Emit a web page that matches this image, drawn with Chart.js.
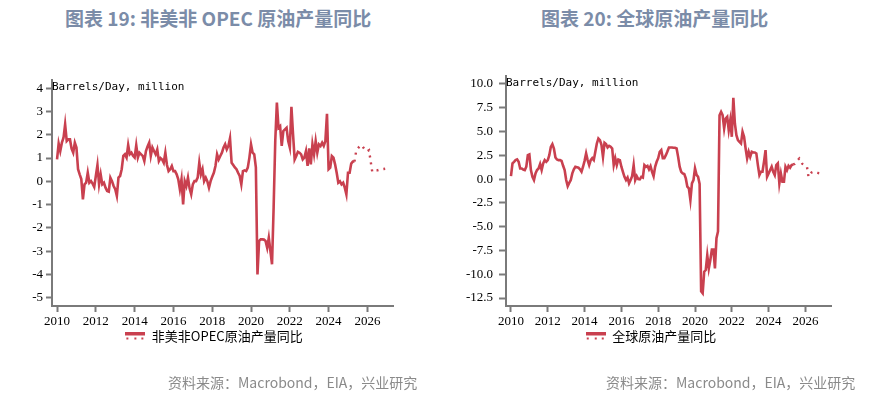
<!DOCTYPE html>
<html><head><meta charset="utf-8">
<script src="https://cdn.jsdelivr.net/npm/chart.js@4.4.1/dist/chart.umd.min.js"></script>
<style>
body{margin:0;background:#fff;width:880px;height:399px;position:relative;overflow:hidden;font-family:"Noto Sans CJK SC",sans-serif;}
.t{position:absolute;font-weight:bold;font-size:19px;color:#7b8ca8;white-space:nowrap;line-height:1;}
.s{position:absolute;font-size:14px;color:#8a8a8a;white-space:nowrap;line-height:1;}
canvas{position:absolute;top:0;}
</style></head><body>
<div class="t" style="left:65px;top:8px">图表 19: 非美非 OPEC 原油产量同比</div>
<div class="t" style="left:541px;top:8px">图表 20: 全球原油产量同比</div>
<canvas id="c1" width="420" height="399" style="left:0"></canvas>
<canvas id="c2" width="460" height="399" style="left:420px"></canvas>
<div class="s" style="left:168px;top:375px">资料来源：Macrobond，EIA，兴业研究</div>
<div class="s" style="left:606px;top:375px">资料来源：Macrobond，EIA，兴业研究</div>
<script>
// ---------- data ----------
const startYear = 2010;            // first monthly observation: Jan 2010
const forecastStartYear = 2025;    // forecast series starts May 2025
const forecastStartMonth = 5;
const unitLabel = 'Barrels/Day, million';
const xTickYears = [2010, 2012, 2014, 2016, 2018, 2020, 2022, 2024, 2026];
const leftYTicks = [-5, -4, -3, -2, -1, 0, 1, 2, 3, 4];
const rightYTicks = [-12.5, -10, -7.5, -5, -2.5, 0, 2.5, 5, 7.5, 10];
const leftLegend = '非美非OPEC原油产量同比';
const rightLegend = '全球原油产量同比';

// Non-US non-OPEC crude production YoY, monthly Jan 2010 - May 2025
const nonUsNonOpecActual = [
  0.94, 1.62, 1.3, 1.66, 1.87, 2.45, 1.73, 1.8, 1.8, 1.4, 1.23, 1.66,
  1.45, 0.52, 0.3, 0.1, -0.77, -0.13, -0.06, 0.37, -0.06, 0.01, -0.1, -0.24,
  0.23, 0.7, -0.13, 0.3, -0.13, -0.06, -0.27, -0.41, -0.44, 0.16, 0.01, -0.2,
  -0.34, -0.63, 0.16, 0.23, 0.52, 1.09, 1.16, 1.02, 1.56, 1.16, 1.23, 1.1,
  1.02, 1.55, 1.02, 1.23, 1.16, 1.09, 0.87, 1.3, 1.5, 1.66, 1.09, 1.45,
  1.3, 1.16, 1.37, 0.87, 1.0, 0.94, 0.8, 1.23, 0.7, 0.44, 0.52, 0.66,
  0.44, 0.44, 0.3, 0.09, -0.34, 0.09, -0.99, 0.01, -0.2, 0.16, -0.3, -0.56,
  -0.13, 0.01, 0.01, 0.16, 0.8, 0.3, 0.52, 0.01, 0.16, 0.0, -0.27, 0.01,
  0.2, 0.37, 0.66, 1.16, 0.94, 1.09, 1.23, 1.45, 1.59, 1.37, 1.52, 1.85,
  0.8, 0.7, 0.6, 0.52, 0.37, 0.23, -0.13, 0.44, 0.47, 0.44, 0.59, 1.02,
  1.59, 1.23, 1.16, 0.6, -4.0, -2.56, -2.49, -2.49, -2.5, -2.56, -2.85, -2.42,
  -2.99, -3.56, -1.1, 1.73, 3.38, 2.3, 2.37, 1.52, 2.16, 2.23, 2.3, 1.73,
  1.45, 3.2, 2.02, 0.94, 1.09, 1.27, 1.23, 1.16, 0.94, 1.02, 1.3, 0.66,
  1.42, 0.73, 1.59, 1.16, 1.73, 1.23, 1.59, 1.52, 1.66, 1.52, 1.73, 2.9,
  0.52, 0.59, 1.09, 1.02, 0.73, 0.37, -0.06, 0.0, -0.13, -0.06, -0.27, -0.56,
  0.37, 0.37, 0.76, 0.85, 0.85
];
// forecast May 2025 - Dec 2026
const nonUsNonOpecForecast = [0.85, 1.27, 1.4, 1.49, 1.56, 1.5, 1.4, 1.3, 1.3, 1.34, 0.87, 0.41, 0.44, 0.46, 0.47, 0.49, 0.5, 0.52, 0.53, 0.54];

// Global crude production YoY, monthly Jan 2010 - May 2025
const worldActual = [
  0.32, 1.65, 1.82, 2.0, 2.07, 1.82, 1.12, 1.12, 1.0, 0.95, 1.3, 2.52,
  2.6, 0.95, 0.24, -0.1, 0.6, 0.95, 1.12, 1.58, 0.95, 1.65, 2.0, 1.82,
  2.0, 2.52, 3.39, 3.68, 3.22, 2.28, 2.07, 2.0, 2.0, 1.92, 1.4, 0.95,
  -0.1, -0.74, -0.4, -0.1, 0.6, 1.02, 1.3, 1.25, 1.2, 1.02, 0.77, 1.3,
  1.92, 2.7, 2.0, 1.47, 2.0, 2.2, 2.0, 2.87, 3.75, 4.27, 4.1, 3.6,
  2.34, 3.82, 3.68, 3.33, 3.5, 3.4, 3.22, 1.47, 2.2, 1.47, 2.07, 2.0,
  1.3, 0.77, 0.24, -0.1, 0.17, -0.45, -0.1, 0.31, 1.47, -0.1, 0.31, 0.0,
  -0.03, 0.24, 0.17, 1.47, 1.3, 1.4, 1.02, 1.36, 0.77, 0.31, 1.3, 1.82,
  2.2, 2.87, 3.05, 2.2, 2.2, 2.52, 2.9, 3.33, 3.33, 3.33, 3.3, 3.3,
  3.22, 2.34, 1.3, 0.77, 0.6, 0.53, 0.07, -0.8, -0.98, -2.2, -0.45, -0.1,
  1.12, 0.45, 0.24, -0.5, -11.8, -12.0, -9.74, -9.56, -8.0, -9.4, -8.5, -7.4,
  -7.4, -9.38, -6.2, -5.5, 6.72, 7.07, 6.72, 5.32, 6.37, 6.55, 5.15, 6.2,
  4.45, 8.54, 5.85, 4.62, 4.1, 3.92, 3.75, 4.97, 4.45, 3.22, 2.17, 2.87,
  2.34, 2.87, 2.8, 2.8, 2.7, 1.47, 0.42, 0.77, 0.77, 1.82, 3.05, 0.24,
  0.59, 0.95, 1.3, 0.77, 0.42, 1.47, 1.65, -0.45, 0.59, -0.28, -0.28, 1.3,
  0.95, 1.4, 1.2, 1.47, 1.54
];
const worldForecast = [1.54, 1.6, 1.75, 2.0, 2.17, 1.9, 1.6, 1.54, 1.4, 1.3, 0.24, 0.5, 0.7, 0.77, 0.72, 0.68, 0.65, 0.62, 0.59, 0.58];

// ---------- chart building ----------
const RED = '#c9404f';
const AXIS = '#7a7a7a';

function toPoints(values, y0, m0) {
  return values.map((v, i) => ({ x: y0 + (m0 - 1 + i) / 12, y: v }));
}

function legendIcon() {
  const c = document.createElement('canvas');
  c.width = 20; c.height = 10;
  const g = c.getContext('2d');
  g.fillStyle = RED;
  g.fillRect(0, 0, 20, 4);
  [1, 9, 16].forEach(x => g.fillRect(x, 6, 2, 2));
  return c;
}

const unitLabelPlugin = {
  id: 'unitLabel',
  afterDraw(chart, args, opts) {
    const { ctx, chartArea } = chart;
    ctx.save();
    ctx.font = '11px "DejaVu Sans Mono"';
    ctx.fillStyle = '#000';
    ctx.textAlign = 'left';
    ctx.textBaseline = 'middle';
    ctx.fillText(opts.text, chartArea.left, chartArea.top + opts.dy);
    ctx.restore();
  }
};

// nudges the legend box horizontally after layout
const legendShiftPlugin = {
  id: 'legendShift',
  afterLayout(chart, args, opts) {
    const l = chart.legend;
    if (l && opts.dx) { l.left += opts.dx; l.right += opts.dx; }
  }
};

function makeChart(id, o) {
  const icon = legendIcon();
  return new Chart(document.getElementById(id), {
    type: 'line',
    data: {
      datasets: [
        { label: o.legend, data: toPoints(o.actual, startYear, 1), borderColor: RED, borderWidth: 2.6,
          pointRadius: 0, tension: 0, fill: false },
        { label: o.legend + ' forecast', data: toPoints(o.forecast, forecastStartYear, forecastStartMonth),
          borderColor: RED, borderWidth: 2.4, borderDash: [2, 5], pointRadius: 0, tension: 0, fill: false }
      ]
    },
    options: {
      responsive: false, animation: false, devicePixelRatio: 1,
      layout: { padding: o.padding },
      scales: {
        x: {
          type: 'linear', min: o.xMin, max: o.xMax,
          afterBuildTicks: s => { s.ticks = xTickYears.map(v => ({ value: v })); },
          afterFit: s => { s.height = 20; },
          grid: { display: true, drawOnChartArea: false, drawTicks: true, tickLength: 6, tickColor: AXIS, tickWidth: 2 },
          border: { display: true, color: AXIS, width: 2 },
          ticks: { color: '#000', font: { family: '"Liberation Serif"', size: 13 }, padding: 2,
                   maxRotation: 0, autoSkip: false, callback: v => String(v) }
        },
        y: {
          type: 'linear', min: o.yMin, max: o.yMax,
          afterBuildTicks: s => { s.ticks = o.yTicks.map(v => ({ value: v })); },
          afterFit: s => { s.width = o.yWidth; },
          grid: { display: true, drawOnChartArea: false, drawTicks: true, tickLength: o.yTickLen, tickColor: AXIS, tickWidth: 2 },
          border: { display: true, color: AXIS, width: 2 },
          ticks: { color: '#000', font: { family: '"Liberation Serif"', size: 13 }, padding: o.yPad,
                   autoSkip: false, callback: o.yFmt }
        }
      },
      plugins: {
        tooltip: { enabled: false },
        unitLabel: { text: unitLabel, dy: 7 },
        legendShift: { dx: o.legendDx },
        legend: {
          display: true, position: 'bottom', align: 'center', onClick: null,
          labels: {
            usePointStyle: true, pointStyleWidth: 20, padding: 4, color: '#111',
            font: { family: '"Noto Sans CJK SC"', size: 13 },
            generateLabels: () => [{ text: o.legend, pointStyle: icon, fillStyle: 'rgba(0,0,0,0)',
              strokeStyle: 'rgba(0,0,0,0)', lineWidth: 0, hidden: false, datasetIndex: 0 }]
          }
        }
      }
    },
    plugins: [unitLabelPlugin, legendShiftPlugin]
  });
}

makeChart('c1', {
  actual: nonUsNonOpecActual, forecast: nonUsNonOpecForecast, legend: leftLegend,
  xMin: 2009.74, xMax: 2027.32, yMin: -5.35, yMax: 4.35, yTicks: leftYTicks,
  yWidth: 26, yTickLen: 6, yPad: 3, yFmt: v => String(v), legendDx: 4.5,
  padding: { left: 26, right: 27, top: 80, bottom: 46 }
});
makeChart('c2', {
  actual: worldActual, forecast: worldForecast, legend: rightLegend,
  xMin: 2009.73, xMax: 2027.39, yMin: -13.34, yMax: 10.84, yTicks: rightYTicks,
  yWidth: 45, yTickLen: 7, yPad: 6, yFmt: v => Number(v).toFixed(1), legendDx: 5,
  padding: { left: 41, right: 49, top: 76, bottom: 46 }
});
</script>
</body></html>
